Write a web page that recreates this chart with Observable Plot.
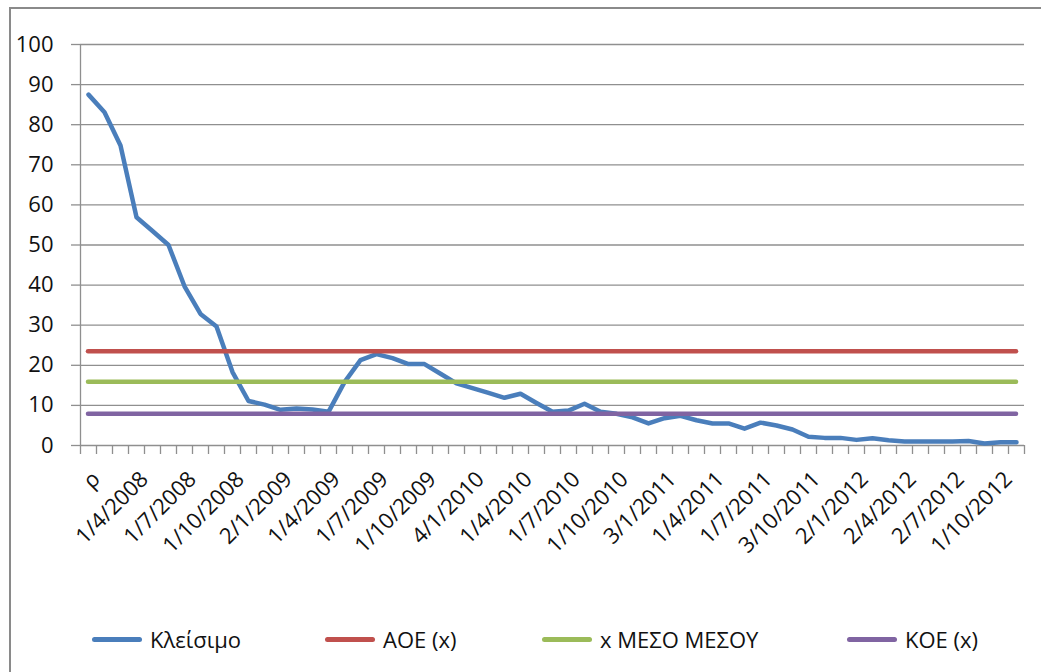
<!DOCTYPE html>
<html>
<head>
<meta charset="utf-8">
<script src="https://cdn.jsdelivr.net/npm/d3@7"></script>
<script src="https://cdn.jsdelivr.net/npm/@observablehq/plot@0.6"></script>
<style>
  html, body { margin: 0; padding: 0; background: #fff; }
  #wrap { position: relative; width: 1041px; height: 672px; overflow: hidden; background: #fff;
          font-family: 'Open Sans', 'DejaVu Sans', sans-serif; }
  #frameTop { position: absolute; left: 9px; top: 7px; width: 1032px; height: 2px; background: #8a8a8a; }
  #frameLeft { position: absolute; left: 9px; top: 7px; width: 2px; height: 665px; background: #8a8a8a; }
  #chart { position: absolute; left: 0; top: 0; }
  .lg { position: absolute; top: 624px; display: flex; align-items: center; height: 30px;
        font-size: 22px; color: #111; white-space: nowrap; }
  .sw { width: 50px; height: 5px; border-radius: 3px; margin-right: 8px; }
</style>
</head>
<body>
<div id="wrap">
  <div id="chart"></div>
  <div id="frameTop"></div>
  <div id="frameLeft"></div>
  <div id="legend"></div>
</div>
<script>
// Tick labels (every third monthly category)
const tickLabels = ["ρ","1/4/2008","1/7/2008","1/10/2008","2/1/2009","1/4/2009","1/7/2009","1/10/2009",
  "4/1/2010","1/4/2010","1/7/2010","1/10/2010","3/1/2011","1/4/2011","1/7/2011","3/10/2011",
  "2/1/2012","2/4/2012","2/7/2012","1/10/2012"];
// Closing values (Κλείσιμο), monthly
const closing = [87.5,83.1,74.8,56.9,53.5,50.0,39.7,32.8,29.7,18.3,
  11.1,10.2,8.9,9.2,9.0,8.4,15.8,21.3,22.8,21.8,
  20.3,20.3,17.9,15.5,14.3,13.1,11.9,12.9,10.6,8.4,
  8.7,10.4,8.4,7.9,7.0,5.5,6.8,7.4,6.3,5.5,
  5.5,4.2,5.7,5.0,4.0,2.2,1.9,1.9,1.4,1.8,
  1.3,1.0,1.0,1.0,1.0,1.1,0.5,0.8,0.8];
// Control lines
const seriesNames = ["Κλείσιμο","ΑΟΕ (x)","x ΜΕΣΟ ΜΕΣΟΥ","ΚΟΕ (x)"];
const seriesColors = ["#4a7ebb","#c0504d","#9bbb59","#8064a2"];
const ucl = 23.5;   // ΑΟΕ (x)
const center = 15.9; // x ΜΕΣΟ ΜΕΣΟΥ
const lcl = 7.9;    // ΚΟΕ (x)
const yTicks = [0,10,20,30,40,50,60,70,80,90,100];

const n = closing.length;
const idx = d3.range(n);
const boundaries = d3.range(n + 1).map(i => i - 0.5);
const labelIdx = tickLabels.map((_, k) => k * 3);
const gridColor = "#8f8f8f";

const chart = Plot.plot({
  width: 1041,
  height: 600,
  marginLeft: 80,
  marginRight: 17,
  marginTop: 44,
  marginBottom: 155,
  x: { domain: [-0.5, n - 0.5], axis: null },
  y: { domain: [0, 100], axis: null },
  style: { fontFamily: "'Open Sans', sans-serif", fontSize: "22px", color: "#111", background: "transparent", overflow: "visible" },
  marks: [
    Plot.gridY(yTicks, { stroke: gridColor, strokeOpacity: 1, strokeWidth: 1.3 }),
    Plot.axisY(yTicks, { tickSize: 9, tickPadding: 18, stroke: gridColor, strokeWidth: 1.3, fill: "#111" }),
    Plot.axisX(boundaries, { tickSize: 9, tickFormat: () => "", stroke: gridColor, strokeWidth: 1.3 }),
    Plot.ruleX([-0.5], { y1: 0, y2: 100, stroke: gridColor, strokeWidth: 1.3 }),
    Plot.axisX(labelIdx, { tickSize: 0, tickRotate: -45, tickPadding: 30, dx: 8, fill: "#111",
      tickFormat: i => tickLabels[i / 3] }),
    Plot.line(closing, { x: (d, i) => idx[i], y: d => d, stroke: seriesColors[0], strokeWidth: 4.5,
      strokeLinejoin: "round", strokeLinecap: "round" }),
    Plot.ruleY([ucl], { x1: 0, x2: n - 1, stroke: seriesColors[1], strokeWidth: 4.5, strokeLinecap: "round" }),
    Plot.ruleY([center], { x1: 0, x2: n - 1, stroke: seriesColors[2], strokeWidth: 4.5, strokeLinecap: "round" }),
    Plot.ruleY([lcl], { x1: 0, x2: n - 1, stroke: seriesColors[3], strokeWidth: 4.5, strokeLinecap: "round" })
  ]
});
document.getElementById("chart").appendChild(chart);

// Legend below the chart
const legendLeft = [92, 325, 542, 847];
const legend = document.getElementById("legend");
seriesNames.forEach((name, k) => {
  const item = document.createElement("div");
  item.className = "lg";
  item.style.left = legendLeft[k] + "px";
  const sw = document.createElement("div");
  sw.className = "sw";
  sw.style.background = seriesColors[k];
  const t = document.createElement("span");
  t.textContent = name;
  item.appendChild(sw);
  item.appendChild(t);
  legend.appendChild(item);
});
</script>
</body>
</html>
